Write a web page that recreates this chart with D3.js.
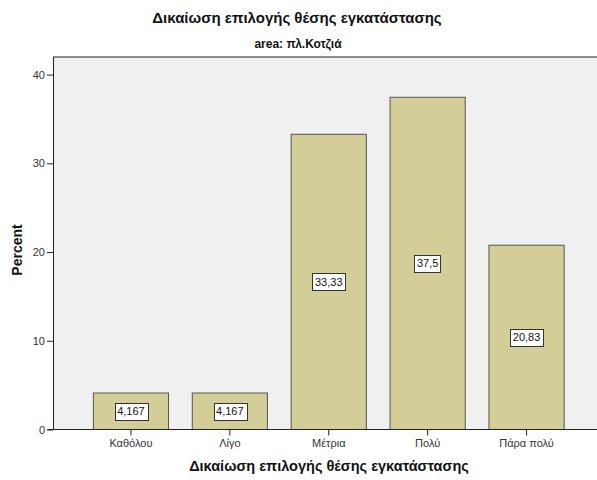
<!DOCTYPE html>
<html><head><meta charset="utf-8">
<script src="https://cdn.jsdelivr.net/npm/d3@7"></script>
<style>body{margin:0;background:#fff;}svg{display:block;font-family:"Liberation Sans",Arial,sans-serif;}</style>
</head><body><svg id="c" width="597" height="480"></svg>
<script>
const categories = ["Καθόλου","Λίγο","Μέτρια","Πολύ","Πάρα πολύ"];
const values = [4.167, 4.167, 33.33, 37.5, 20.83];
const valueLabels = ["4,167","4,167","33,33","37,5","20,83"];
const yTicks = [0,10,20,30,40];

const svg = d3.select("#c");
const plot = {left:53, right:597, top:57, bottom:429.5};
const x = d3.scaleBand().domain(categories).range([81,575.5]).paddingInner(0.24).paddingOuter(0.12);
const y = d3.scaleLinear().domain([0,40]).range([plot.bottom, 74.6]);

svg.append("rect").attr("x",plot.left).attr("y",plot.top).attr("width",plot.right-plot.left).attr("height",plot.bottom-plot.top).attr("fill","#f0f0f0");
svg.append("line").attr("x1",plot.left).attr("x2",plot.right).attr("y1",plot.top).attr("y2",plot.top).attr("stroke","#222").attr("stroke-width",1);

// bars
const bw = x.bandwidth();
svg.selectAll("rect.bar").data(values).join("rect").attr("class","bar")
  .attr("x",(d,i)=>x(categories[i])+0.5).attr("y",d=>y(d)+0.5)
  .attr("width",bw).attr("height",d=>plot.bottom-y(d)-0.5)
  .attr("fill","#d3ce97").attr("stroke","#55554a").attr("stroke-width",1);

// labels
values.forEach((d,i)=>{
  const cx = x(categories[i])+bw/2+0.5;
  const cy = (y(d)+plot.bottom)/2;
  const g = svg.append("g");
  const t = g.append("text").attr("x",cx).attr("y",cy+4).attr("text-anchor","middle").attr("font-size",11).attr("fill","#111").text(valueLabels[i]);
  const w = t.node().getComputedTextLength();
  g.insert("rect","text").attr("x",Math.round(cx-w/2-2.5)+0.5).attr("y",Math.round(cy-8.5)+0.5).attr("width",Math.round(w+5)).attr("height",17).attr("fill","#fff").attr("stroke","#333");
});

// y axis
const ya = d3.axisLeft(y).tickValues(yTicks).tickSize(6).tickPadding(2).tickFormat(d3.format("d"));
const gy = svg.append("g").attr("transform",`translate(${plot.left},0)`).call(ya);
gy.select(".domain").attr("d",`M0.5,${plot.top}V${plot.bottom}`).attr("stroke","#222");
gy.selectAll(".tick line").attr("stroke","#222");
gy.selectAll(".tick text").attr("font-size",11).attr("fill","#333").attr("font-family","Liberation Sans,Arial,sans-serif");

// x axis
const xa = d3.axisBottom(x).tickSize(6).tickPadding(4);
const gx = svg.append("g").attr("transform",`translate(0.5,${plot.bottom})`).call(xa);
gx.select(".domain").attr("d",`M${plot.left-6},0H${plot.right}`).attr("stroke","#222");
gx.selectAll(".tick line").attr("stroke","#222");
gx.selectAll(".tick text").attr("font-size",11).attr("fill","#333").attr("font-family","Liberation Sans,Arial,sans-serif");

// titles
svg.append("text").attr("x",297).attr("y",23).attr("text-anchor","middle").attr("font-size",15).attr("font-weight","bold").attr("fill","#111").text("Δικαίωση επιλογής θέσης εγκατάστασης");
svg.append("text").attr("x",298).attr("y",48).attr("text-anchor","middle").attr("font-size",12).attr("font-weight","bold").attr("fill","#111").text("area: πλ.Κοτζιά");
svg.append("text").attr("x",329).attr("y",471).attr("text-anchor","middle").attr("font-size",14.5).attr("font-weight","bold").attr("fill","#111").text("Δικαίωση επιλογής θέσης εγκατάστασης");
svg.append("text").attr("transform","translate(22,250) rotate(-90)").attr("text-anchor","middle").attr("font-size",14).attr("font-weight","bold").attr("fill","#111").text("Percent");
</script></body></html>
